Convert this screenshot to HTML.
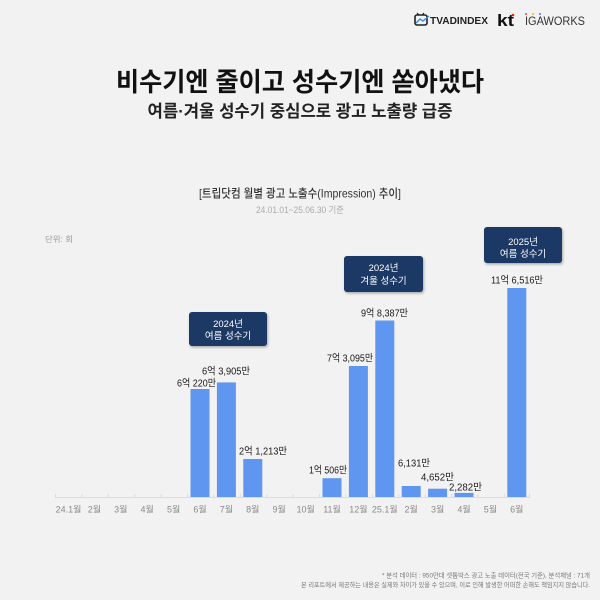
<!DOCTYPE html>
<html><head><meta charset="utf-8">
<style>
html,body{margin:0;padding:0;background:#f2f2f2;}
svg{display:block;}
text{font-family:"Liberation Sans","Noto Sans CJK KR",sans-serif;}
</style></head>
<body>
<svg width="600" height="600" viewBox="0 0 600 600" xmlns="http://www.w3.org/2000/svg">
<defs>
<filter id="sh" x="-20%" y="-20%" width="140%" height="150%">
<feDropShadow dx="1" dy="1.5" stdDeviation="1.2" flood-color="#000" flood-opacity="0.3"/>
</filter>
</defs>
<rect width="600" height="600" fill="#f2f2f2"/>

<!-- logos -->
<g>
<rect x="415" y="15" width="12" height="10" rx="2" fill="none" stroke="#222" stroke-width="1.6"/>
<path d="M417 13 L419 15 M424 13 L422 15" stroke="#222" stroke-width="1.2"/>
<path d="M416 23 L420 19 L423 21 L429 16" stroke="#3a8ee0" stroke-width="1.4" fill="none"/>
<text x="430" y="24" font-size="10" font-weight="700" fill="#222" textLength="58" lengthAdjust="spacingAndGlyphs">TVADINDEX</text>
<text x="497" y="26" font-size="17" font-weight="700" fill="#111" textLength="17" lengthAdjust="spacingAndGlyphs">kt</text>
<circle cx="513" cy="15" r="1.3" fill="#e2231a"/>
<text x="525" y="25" font-size="12" fill="#333" textLength="60" lengthAdjust="spacingAndGlyphs">IGAWORKS</text>
<circle cx="526" cy="14" r="1" fill="#e84b4b"/>
<circle cx="533" cy="14" r="1" fill="#f3b321"/>
<circle cx="540" cy="14" r="1" fill="#3b82d6"/>
</g>

<!-- titles -->
<text x="300" y="91" font-size="26" font-weight="700" fill="#111" text-anchor="middle" textLength="368" lengthAdjust="spacingAndGlyphs">비수기엔 줄이고 성수기엔 쏟아냈다</text>
<text x="300" y="117" font-size="17" font-weight="700" fill="#222" text-anchor="middle" textLength="305" lengthAdjust="spacingAndGlyphs">여름·겨울 성수기 중심으로 광고 노출량 급증</text>

<text x="300" y="197.5" font-size="12" font-weight="500" fill="#333" text-anchor="middle" textLength="202" lengthAdjust="spacingAndGlyphs">[트립닷컴 월별 광고 노출수(Impression) 추이]</text>
<text x="300" y="213" font-size="9" fill="#aaa" text-anchor="middle" textLength="88" lengthAdjust="spacingAndGlyphs">24.01.01~25.06.30 기준</text>

<text x="45" y="242" font-size="8" fill="#999" textLength="28" lengthAdjust="spacingAndGlyphs">단위: 회</text>

<!-- axis -->
<g stroke="#dcdcdc" stroke-width="1">
<line x1="55" y1="497.5" x2="530" y2="497.5"/>
<path d="M55.5 494v3 M81.9 494v3 M108.3 494v3 M134.7 494v3 M161.1 494v3 M187.5 494v3 M213.9 494v3 M240.3 494v3 M266.7 494v3 M293.1 494v3 M319.5 494v3 M345.9 494v3 M372.3 494v3 M398.7 494v3 M425.1 494v3 M451.5 494v3 M477.9 494v3 M504.3 494v3 M529.5 494v3"/>
</g>

<!-- bars -->
<g fill="#5f96ef">
<rect x="190.5" y="389" width="19" height="108"/>
<rect x="216.9" y="382.4" width="19" height="114.6"/>
<rect x="243.3" y="459" width="19" height="38"/>
<rect x="322.5" y="478.2" width="19" height="18.8"/>
<rect x="348.9" y="366" width="19" height="131"/>
<rect x="375.3" y="320.5" width="19" height="176.5"/>
<rect x="401.7" y="486" width="19" height="11"/>
<rect x="428.1" y="488.7" width="19" height="8.3"/>
<rect x="454.5" y="492.9" width="19" height="4.1"/>
<rect x="507.3" y="288" width="19" height="209"/>
</g>

<!-- data labels -->
<g font-size="10" fill="#1a1a1a" text-anchor="middle">
<text x="196.5" y="386.7" textLength="39" lengthAdjust="spacingAndGlyphs">6억 220만</text>
<text x="226" y="374.7" textLength="48" lengthAdjust="spacingAndGlyphs">6억 3,905만</text>
<text x="263" y="454.7" textLength="48" lengthAdjust="spacingAndGlyphs">2억 1,213만</text>
<text x="328" y="473.7" textLength="38" lengthAdjust="spacingAndGlyphs">1억 506만</text>
<text x="350" y="361.7" textLength="46" lengthAdjust="spacingAndGlyphs">7억 3,095만</text>
<text x="384.5" y="316.7" textLength="47" lengthAdjust="spacingAndGlyphs">9억 8,387만</text>
<text x="414" y="466.7" textLength="32" lengthAdjust="spacingAndGlyphs">6,131만</text>
<text x="437.5" y="480.7" textLength="33" lengthAdjust="spacingAndGlyphs">4,652만</text>
<text x="465.5" y="490.7" textLength="33" lengthAdjust="spacingAndGlyphs">2,282만</text>
<text x="517" y="283.7" textLength="52" lengthAdjust="spacingAndGlyphs">11억 6,516만</text>
</g>

<!-- x labels -->
<g font-size="9" fill="#8a8a8a" text-anchor="middle">
<text x="68.5" y="512.5">24.1월</text>
<text x="94.4" y="512.5">2월</text>
<text x="120.8" y="512.5">3월</text>
<text x="147.2" y="512.5">4월</text>
<text x="173.6" y="512.5">5월</text>
<text x="200" y="512.5">6월</text>
<text x="226.4" y="512.5">7월</text>
<text x="252.8" y="512.5">8월</text>
<text x="279.2" y="512.5">9월</text>
<text x="305.6" y="512.5">10월</text>
<text x="332" y="512.5">11월</text>
<text x="358.4" y="512.5">12월</text>
<text x="384.8" y="512.5">25.1월</text>
<text x="411.2" y="512.5">2월</text>
<text x="437.6" y="512.5">3월</text>
<text x="464" y="512.5">4월</text>
<text x="490.4" y="512.5">5월</text>
<text x="516.8" y="512.5">6월</text>
</g>

<!-- callouts -->
<g filter="url(#sh)" fill="#1f3865">
<rect x="189" y="312" width="78" height="34" rx="3"/>
<rect x="344" y="256" width="79" height="36" rx="3"/>
<rect x="484" y="227" width="78" height="36" rx="3"/>
</g>
<g font-size="9.5" fill="#fff" text-anchor="middle">
<text x="228" y="327">2024년</text>
<text x="228" y="339">여름 성수기</text>
<text x="383.5" y="271">2024년</text>
<text x="383.5" y="284">겨울 성수기</text>
<text x="523" y="245">2025년</text>
<text x="523" y="257">여름 성수기</text>
</g>

<!-- footnotes -->
<g font-size="6.5" fill="#777" text-anchor="end">
<text x="590" y="577.5" textLength="208" lengthAdjust="spacingAndGlyphs">* 분석 데이터 : 950만대 셋톱박스 광고 노출 데이터(전국 기준), 분석채널 : 71개</text>
<text x="590" y="587" textLength="289" lengthAdjust="spacingAndGlyphs">본 리포트에서 제공하는 내용은 실제와 차이가 있을 수 있으며, 이로 인해 발생한 어떠한 손해도 책임지지 않습니다.</text>
</g>
</svg>
</body></html>
